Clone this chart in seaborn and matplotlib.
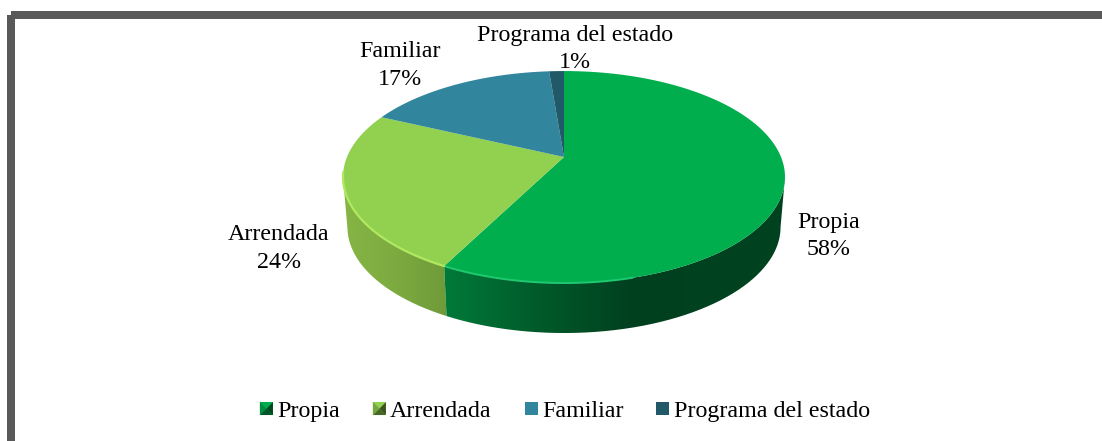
import numpy as np
import seaborn as sns
from matplotlib import pyplot as plt
from matplotlib.colors import to_rgb
from matplotlib.patches import Polygon, Rectangle, PathPatch
from matplotlib.path import Path
from matplotlib.legend_handler import HandlerPatch

# Datos del grafico
categorias = ['Propia', 'Arrendada', 'Familiar', 'Programa del estado']
valores = [57.6, 24.3, 16.8, 1.3]
etiquetas = ['58%', '24%', '17%', '1%']

sns.set_theme(style='white')
plt.rcParams['font.family'] = ['Liberation Serif', 'DejaVu Serif']
colores = ['#00ae4e', '#92d050', '#31859c', '#215968']

fig = plt.figure(figsize=(11.02, 4.41), dpi=100)
ax = fig.add_axes([0, 0, 1, 1])
ax.axis('off')

# marco gris, cortado por la derecha y por abajo
ax.add_patch(Rectangle((11, 15), 1200, 600, fill=False, ec='#595959', lw=5.76, joinstyle='round'))

# perspectiva del disco
CX, CY = 564, 157
BX, BY, K = 217, 102.2, 0.189
ALTO = 50


def borde(t):
    u, v = np.sin(t), np.cos(t)
    w = 1 + K * v
    return CX + BX * u / w, CY - BY * v / w


def cuna(t0, t1):
    t = np.linspace(t0, t1, 200)
    x, y = borde(t)
    return np.r_[CX, x], np.r_[CY, y]


angulos = np.r_[0, np.cumsum(valores)] / np.sum(valores) * 2 * np.pi
# donde el borde llega a su x extrema
t_der = np.arccos(-K)
t_izq = 2 * np.pi - t_der


def lado(t0, t1, stops):
    # pared lateral con degradado horizontal recortado
    t = np.linspace(t0, t1, 200)
    x, y = borde(t)
    xb = CX + (x - CX) * 0.98
    yb = y + ALTO
    pts = np.r_[np.c_[x, y], np.c_[xb, yb][::-1]]
    xs = np.linspace(pts[:, 0].min(), pts[:, 0].max(), 300)
    pos = [p for p, c in stops]
    rgb = np.array([to_rgb(c) for p, c in stops])
    fr = (xs - xs[0]) / (xs[-1] - xs[0])
    img = np.stack([np.interp(fr, pos, rgb[:, i]) for i in range(3)], axis=1)[None, :, :]
    im = ax.imshow(img, extent=[xs[0], xs[-1], pts[:, 1].max(), pts[:, 1].min()], aspect='auto', zorder=2)
    clip = PathPatch(Path(pts), transform=ax.transData, fc='none', ec='none')
    ax.add_patch(clip)
    im.set_clip_path(clip)


# zona visible de las paredes: Arrendada a la izquierda, Propia delante y a la derecha
lado(angulos[1], t_izq, [(0, '#86b545'), (0.5, '#7dab40'), (1, '#6f9a3a')])
lado(t_der, angulos[1], [(0, '#007a38'), (0.12, '#006c33'), (0.28, '#005a2a'),
                         (0.55, '#00401f'), (1, '#00431f')])
ax.set_xlim(0, 1102)
ax.set_ylim(441, 0)

# cara superior, desde los valores
for i in range(len(valores)):
    x, y = cuna(angulos[i], angulos[i + 1])
    ax.add_patch(Polygon(np.c_[x, y], closed=True, fc=colores[i], ec='none', zorder=3))

# brillo del borde delantero
t = np.linspace(np.deg2rad(165), angulos[1], 100)
ax.plot(*borde(t), color='#20c870', lw=1.4, zorder=4)
t = np.linspace(angulos[1], t_izq + 0.05, 100)
ax.plot(*borde(t), color='#b0e860', lw=1.6, zorder=4)

# etiquetas
pos_etq = [(829, 236), (279, 248.5), (400, 65.5), (575, 49)]
for i, (px, py) in enumerate(pos_etq):
    ax.text(px, py, categorias[i] + '\n' + etiquetas[i], ha='center', va='center',
            fontsize=17.3, color='black', linespacing=1.4, zorder=5)


# leyenda con marcadores biselados
class CuadroBisel(HandlerPatch):
    def create_artists(self, legend, orig, xd, yd, w, h, fs, trans):
        c = orig.get_facecolor()
        s = 9.4
        x0, y0 = -xd + w - s, -yd + (h - s) / 2
        r = [Rectangle((x0, y0), s, s, fc=c, ec='none', transform=trans)]
        if orig.get_label() in categorias[:2]:
            m = (x0 + s / 2, y0 + s / 2)
            esq = [(x0, y0), (x0 + s, y0), (x0 + s, y0 + s), (x0, y0 + s)]
            tonos = [0.5, 0.4, 1.0, 0.8]
            for j in range(4):
                col = np.clip(np.array(c[:3]) * tonos[j], 0, 1)
                r.append(Polygon([esq[j], esq[(j + 1) % 4], m], fc=col, ec='none', transform=trans))
        return r


asas = [Rectangle((0, 0), 1, 1, fc=colores[i], label=categorias[i]) for i in range(4)]
ax.legend(handles=asas, loc='center', bbox_to_anchor=(0.5075, 0.068), ncols=4, frameon=False,
          fontsize=17.3, handlelength=1.0, handletextpad=0.17, columnspacing=0.92,
          labelcolor='black', handler_map={Rectangle: CuadroBisel()})

plt.savefig('out.png', dpi=100)
